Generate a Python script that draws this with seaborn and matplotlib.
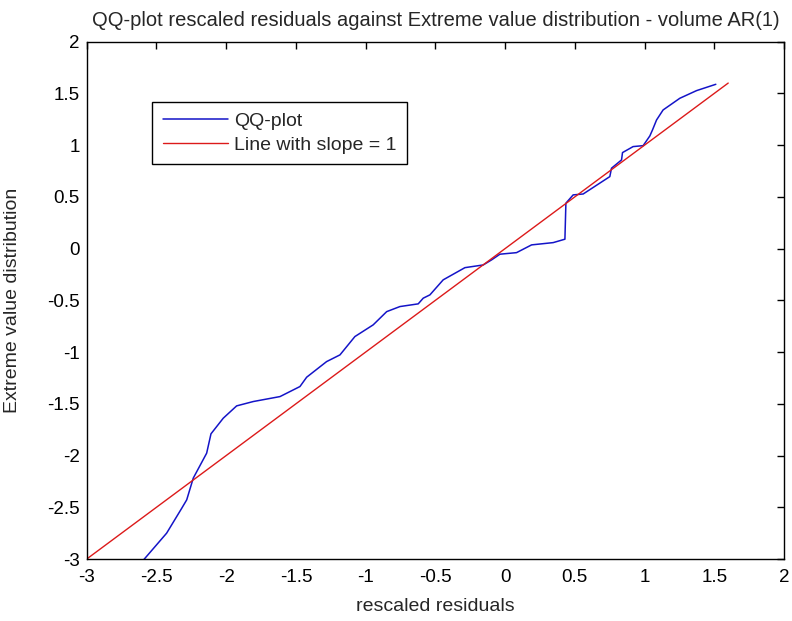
import matplotlib
matplotlib.use("Agg")
import matplotlib.pyplot as plt
import seaborn as sns
import pandas as pd

# Sample quantiles of the rescaled residuals vs. extreme value quantiles
resid_q = [-2.62, -2.587, -2.427, -2.319, -2.283, -2.236, -2.140, -2.109, -2.021,
           -1.925, -1.806, -1.614, -1.471, -1.423, -1.280, -1.184, -1.077, -0.946,
           -0.849, -0.754, -0.623, -0.587, -0.539, -0.444, -0.288, -0.157, -0.097,
           -0.037, 0.082, 0.190, 0.345, 0.429, 0.436, 0.488, 0.560, 0.751, 0.763,
           0.835, 0.842, 0.918, 0.990, 1.038, 1.057, 1.086, 1.133, 1.253, 1.373,
           1.511]
ev_q = [-3.05, -3.00, -2.75, -2.51, -2.428, -2.218, -1.977, -1.79, -1.639,
        -1.52, -1.478, -1.43, -1.333, -1.243, -1.092, -1.027, -0.850, -0.737,
        -0.609, -0.560, -0.534, -0.479, -0.447, -0.302, -0.184, -0.158, -0.109,
        -0.054, -0.039, 0.036, 0.058, 0.091, 0.439, 0.519, 0.528, 0.696, 0.777,
        0.857, 0.928, 0.986, 0.995, 1.089, 1.147, 1.243, 1.340, 1.453, 1.527,
        1.588]

# Reference line y = x
ref_x = [-3.0, 1.6]
ref_y = [-3.0, 1.6]

x_ticks = [-3, -2.5, -2, -1.5, -1, -0.5, 0, 0.5, 1, 1.5, 2]
y_ticks = [-3, -2.5, -2, -1.5, -1, -0.5, 0, 0.5, 1, 1.5, 2]

sns.set_style("white")
plt.rcParams["font.family"] = ["Liberation Sans", "DejaVu Sans"]

fig = plt.figure(figsize=(7.92, 6.21), dpi=100)
ax = fig.add_axes([0.1095, 0.0998, 0.8804, 0.8331])

qq = pd.DataFrame({"x": resid_q, "y": ev_q})
ref = pd.DataFrame({"x": ref_x, "y": ref_y})
sns.lineplot(data=qq, x="x", y="y", ax=ax, color="#1414c8", lw=1.1,
             sort=False, label="QQ-plot")
sns.lineplot(data=ref, x="x", y="y", ax=ax, color="#dc1a1a", lw=1.0,
             sort=False, label="Line with slope = 1")

ax.set_xlim(-3, 2)
ax.set_ylim(-3, 2)
ax.set_xticks(x_ticks)
ax.set_yticks(y_ticks)
ax.set_xticklabels([f"{t:g}" for t in x_ticks])
ax.set_yticklabels([f"{t:g}" for t in y_ticks])
ax.tick_params(direction="in", length=5, width=1, top=True, right=True,
               labelsize=13.5, colors="black")
ax.tick_params(axis="x", pad=7)
ax.tick_params(axis="y", pad=5)
for s in ax.spines.values():
    s.set_visible(True)
    s.set_color("black")
    s.set_linewidth(1)

ax.set_xlabel("rescaled residuals", fontsize=14, labelpad=8.5)
ax.set_ylabel("Extreme value distribution", fontsize=14, labelpad=19)
ax.set_title("QQ-plot rescaled residuals against Extreme value distribution - volume AR(1)",
             fontsize=14.5, pad=11)

leg = ax.legend(loc="upper left", bbox_to_anchor=(0.0937, 0.8834),
                borderaxespad=0, fancybox=False, edgecolor="black",
                framealpha=1, fontsize=14, handlelength=3.35,
                borderpad=0.55, labelspacing=0.3, handletextpad=0.3)
leg.get_frame().set_linewidth(1)

fig.savefig("out.png", dpi=100, facecolor="white")
